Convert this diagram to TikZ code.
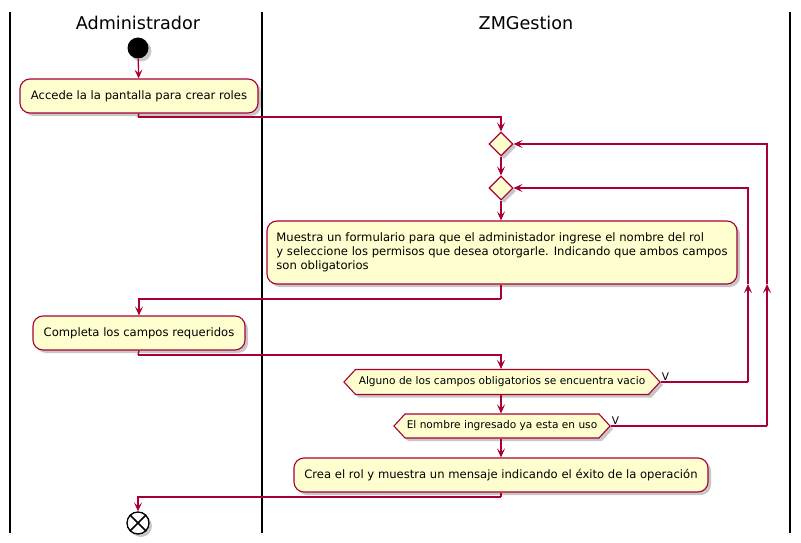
\documentclass[tikz,border=0pt]{standalone}
\usepackage{fontspec}
\setmainfont{DejaVu Sans}
\usetikzlibrary{arrows.meta,shapes.geometric,shapes.symbols,shadows}
\definecolor{umlfill}{HTML}{FEFECE}
\definecolor{umlline}{HTML}{A80036}
\tikzset{
  shd/.style={drop shadow={shadow xshift=3pt,shadow yshift=-3pt,opacity=0.22,fill=black}},
  actbox/.style={draw=umlline,fill=umlfill,line width=1.1pt,rounded corners=10pt,shd,
     font=\fontsize{11.6}{14}\selectfont,inner sep=0pt},
  decis/.style={draw=umlline,fill=umlfill,line width=1.1pt,diamond,minimum width=24pt,minimum height=24pt,inner sep=0pt,shd},
  hexa/.style={draw=umlline,fill=umlfill,line width=1.1pt,signal,signal to=east and west,signal pointer angle=95,
     font=\fontsize{10.6}{12}\selectfont,inner sep=0pt,minimum height=25pt,shd},
  conn/.style={color=umlline,line width=1.3pt},
  arr/.style={conn,-{Stealth[length=9pt,width=8pt,inset=4pt]}},
  lane/.style={draw=black,line width=1.3pt},
  lanehead/.style={font=\fontsize{17.6}{20}\selectfont},
  vlab/.style={font=\fontsize{10.5}{11}\selectfont,inner sep=0pt}
}
\begin{document}
\begin{tikzpicture}[x=1pt,y=-1pt]
\useasboundingbox[fill=white] (0,0) rectangle (801,543);
% swimlanes
\draw[lane] (10,12) coordinate (l1t) -- (10,533) coordinate (l1b);
\draw[lane] (262,12) coordinate (l2t) -- (262,533) coordinate (l2b);
\draw[lane] (790,12) coordinate (l3t) -- (790,533) coordinate (l3b);
\node[lanehead] (hadm) at (138,23) {Administrador};
\node[lanehead] (hzm) at (526,23) {ZMGestion};
% nodes
\node[circle,fill=black,minimum size=21pt,inner sep=0pt,shd] (start) at (138,48) {};
\node[actbox,minimum width=238pt,minimum height=34pt] (a1) at (139,96) {Accede la la pantalla para crear roles};
\node[decis] (d1) at (501,144) {};
\node[decis] (d2) at (501,188) {};
\node[actbox,align=left,minimum width=470pt,minimum height=63pt] (a3) at (502,252.5)
  {Muestra un formulario para que el administador ingrese el nombre del rol\\
   y seleccione los permisos que desea otorgarle. Indicando que ambos campos\\
   son obligatorios};
\node[actbox,minimum width=212pt,minimum height=34pt] (a4) at (139,333) {Completa los campos requeridos};
\node[hexa,minimum width=316pt] (h1) at (502,382) {Alguno de los campos obligatorios se encuentra vacio};
\node[hexa,minimum width=216pt,minimum height=24pt] (h2) at (502,426) {El nombre ingresado ya esta en uso};
\node[actbox,minimum width=414pt,minimum height=34pt] (a5) at (501,475) {Crea el rol y muestra un mensaje indicando el éxito de la operación};
\node[circle,draw=black,fill=white,line width=1.3pt,minimum size=22pt,inner sep=0pt,shd] (fin) at (138,523) {};
\draw[black,line width=1.6pt] (fin.north east) -- (fin.south west) (fin.north west) -- (fin.south east);
\node[vlab,anchor=south west] (v1) at ([xshift=1pt,yshift=1pt]h1.east) {V};
\node[vlab,anchor=south west] (v2) at ([xshift=1pt,yshift=1pt]h2.east) {V};
% routing coordinates
\coordinate (p1) at (138,117);
\coordinate (p3) at (501,299);
\coordinate (p4) at (138,355);
\coordinate (p5) at (501,497);
\coordinate (c1a) at (748,382);
\coordinate (c1m) at (748,284);
\coordinate (c2a) at (767,426);
\coordinate (c2m) at (767,284);
% connectors
\draw[arr] (start) -- (a1);
\draw[conn] (a1.south) -- (p1);
\draw[arr] (p1) -| (d1.north);
\draw[arr] (d1.south) -- (d2.north);
\draw[arr] (d2.south) -- (d2.south |- a3.north);
\draw[conn] (d2.south |- a3.south) -- (p3);
\draw[arr] (p3) -| (a4.north);
\draw[conn] (a4.south) -- (p4);
\draw[arr] (p4) -| (d2.south |- h1.north);
\draw[conn] (h1.east) -- (c1a);
\draw[arr] (c1a) -- (c1m);
\draw[arr] (c1m) |- (d2.east);
\draw[arr] (d2.south |- h1.south) -- (d2.south |- h2.north);
\draw[conn] (h2.east) -- (c2a);
\draw[arr] (c2a) -- (c2m);
\draw[arr] (c2m) |- (d1.east);
\draw[arr] (d2.south |- h2.south) -- (a5.north);
\draw[conn] (a5.south) -- (p5);
\draw[arr] (p5) -| (fin.north);
\end{tikzpicture}
\end{document}
